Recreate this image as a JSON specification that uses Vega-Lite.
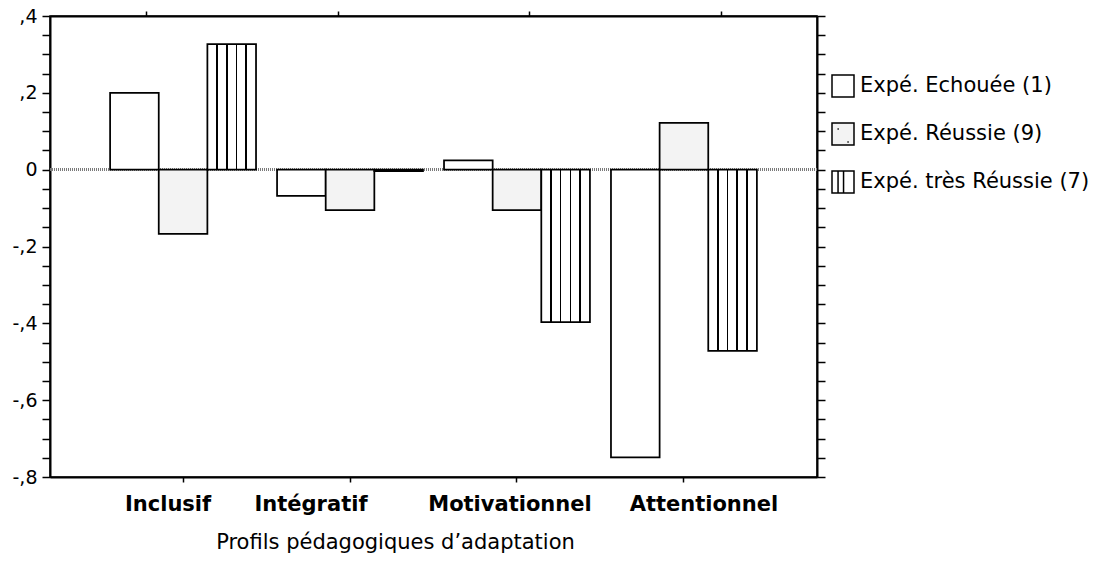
{
  "$schema": "https://vega.github.io/schema/vega-lite/v6.json",
  "width": 767,
  "height": 461,
  "autosize": {"type": "none"},
  "padding": {"left": 50, "top": 16, "right": 280, "bottom": 95},
  "background": "white",
  "config": {
    "font": "DejaVu Sans",
    "view": {"stroke": "black", "strokeWidth": 1.5}
  },
  "data": {
    "values": [
      {"profil": "Inclusif", "groupe": "Expé. Echouée (1)", "valeur": 0.2},
      {"profil": "Inclusif", "groupe": "Expé. Réussie (9)", "valeur": -0.167},
      {"profil": "Inclusif", "groupe": "Expé. très Réussie (7)", "valeur": 0.327},
      {"profil": "Intégratif", "groupe": "Expé. Echouée (1)", "valeur": -0.068},
      {"profil": "Intégratif", "groupe": "Expé. Réussie (9)", "valeur": -0.105},
      {"profil": "Intégratif", "groupe": "Expé. très Réussie (7)", "valeur": -0.004},
      {"profil": "Motivationnel", "groupe": "Expé. Echouée (1)", "valeur": 0.024},
      {"profil": "Motivationnel", "groupe": "Expé. Réussie (9)", "valeur": -0.105},
      {"profil": "Motivationnel", "groupe": "Expé. très Réussie (7)", "valeur": -0.397},
      {"profil": "Attentionnel", "groupe": "Expé. Echouée (1)", "valeur": -0.749},
      {"profil": "Attentionnel", "groupe": "Expé. Réussie (9)", "valeur": 0.122},
      {"profil": "Attentionnel", "groupe": "Expé. très Réussie (7)", "valeur": -0.472}
    ]
  },
  "layer": [
    {
      "mark": {"type": "rule", "color": "#7a7a7a", "strokeWidth": 2.5, "strokeDash": [1, 1]},
      "encoding": {
        "y": {"datum": 0, "type": "quantitative", "scale": {"domain": [-0.8, 0.4], "nice": false}, "axis": null}
      }
    },
    {
      "mark": {"type": "bar", "stroke": "black", "strokeWidth": 1.75},
      "encoding": {
        "x": {
          "field": "profil", "type": "nominal",
          "sort": ["Inclusif", "Intégratif", "Motivationnel", "Attentionnel"],
          "scale": {"paddingInner": 0.126, "paddingOuter": 0.36},
          "axis": {
            "orient": "bottom",
            "title": "Profils pédagogiques d’adaptation",
            "titleFontSize": 21, "titleFontWeight": "normal", "titleColor": "black",
            "titleX": 345, "titleAlign": "center", "titlePadding": 17,
            "labelAngle": 0, "labelFontSize": 21, "labelFontWeight": "bold", "labelColor": "black",
            "labelPadding": 11, "tickSize": 5, "tickWidth": 1.5, "tickColor": "black",
            "domainColor": "black", "domainWidth": 2,
            "labelOffset": {
              "condition": [
                {"test": "datum.value == 'Inclusif'", "value": -15},
                {"test": "datum.value == 'Intégratif'", "value": -39},
                {"test": "datum.value == 'Motivationnel'", "value": -7}
              ],
              "value": 20
            }
          }
        },
        "xOffset": {
          "field": "groupe", "type": "nominal",
          "sort": ["Expé. Echouée (1)", "Expé. Réussie (9)", "Expé. très Réussie (7)"],
          "scale": {"paddingInner": 0, "paddingOuter": 0}
        },
        "y": {
          "field": "valeur", "type": "quantitative",
          "scale": {"domain": [-0.8, 0.4], "nice": false},
          "axis": {
            "orient": "left", "title": null, "grid": false,
            "values": [-0.8, -0.75, -0.7, -0.65, -0.6, -0.55, -0.5, -0.45, -0.4, -0.35, -0.3, -0.25, -0.2, -0.15, -0.1, -0.05, 0, 0.05, 0.1, 0.15, 0.2, 0.25, 0.3, 0.35, 0.4],
            "labelExpr": "abs(datum.value*5 - round(datum.value*5)) < 0.001 ? (abs(datum.value) < 0.001 ? '0' : (datum.value < 0 ? '-,' : ',') + round(abs(datum.value)*10)) : ''",
            "labelFontSize": 19, "labelColor": "black", "labelPadding": 5, "labelOverlap": false,
            "tickSize": 8, "tickWidth": 1.5, "tickColor": "black",
            "domainColor": "black", "domainWidth": 2,
            "encode": {
              "ticks": {"update": {"x2": {"signal": "abs(datum.value*5 - round(datum.value*5)) < 0.001 ? -8 : -5"}}}
            }
          }
        },
        "fill": {
          "field": "groupe", "type": "nominal",
          "scale": {
            "domain": ["Expé. Echouée (1)", "Expé. Réussie (9)", "Expé. très Réussie (7)"],
            "range": ["white", "#f3f3f3", "white"]
          },
          "condition": {
            "test": "datum.groupe === 'Expé. très Réussie (7)'",
            "value": {
              "gradient": "linear", "x1": 0, "y1": 0, "x2": 1, "y2": 0,
              "stops": [
                {"offset": 0, "color": "white"},
                {"offset": 0.18, "color": "white"},
                {"offset": 0.18, "color": "black"},
                {"offset": 0.215, "color": "black"},
                {"offset": 0.215, "color": "white"},
                {"offset": 0.38, "color": "white"},
                {"offset": 0.38, "color": "black"},
                {"offset": 0.415, "color": "black"},
                {"offset": 0.415, "color": "white"},
                {"offset": 0.58, "color": "white"},
                {"offset": 0.58, "color": "black"},
                {"offset": 0.615, "color": "black"},
                {"offset": 0.615, "color": "white"},
                {"offset": 0.78, "color": "white"},
                {"offset": 0.78, "color": "black"},
                {"offset": 0.815, "color": "black"},
                {"offset": 0.815, "color": "white"},
                {"offset": 1, "color": "white"}
              ]
            }
          },
          "legend": {
            "orient": "none", "legendX": 781, "legendY": 58,
            "title": null,
            "symbolSize": 484, "symbolOpacity": 1,
            "symbolStrokeColor": "black", "symbolStrokeWidth": 1.5,
            "labelFontSize": 21, "labelColor": "black", "labelOffset": 5,
            "labelLimit": 400, "rowPadding": 20
          }
        }
      }
    },
    {
      "mark": {"type": "point", "opacity": 0, "color": "black"},
      "encoding": {
        "x": {
          "field": "profil", "type": "nominal",
          "sort": ["Inclusif", "Intégratif", "Motivationnel", "Attentionnel"],
          "scale": {"paddingInner": 0.126, "paddingOuter": 0.36},
          "axis": {
            "orient": "top", "title": null, "labels": false,
            "tickSize": 5, "tickWidth": 1.5, "tickColor": "black",
            "domainColor": "black", "domainWidth": 2
          }
        },
        "y": {
          "field": "valeur", "type": "quantitative",
          "scale": {"domain": [-0.8, 0.4], "nice": false},
          "axis": {
            "orient": "right", "title": null, "labels": false, "grid": false,
            "values": [-0.8, -0.75, -0.7, -0.65, -0.6, -0.55, -0.5, -0.45, -0.4, -0.35, -0.3, -0.25, -0.2, -0.15, -0.1, -0.05, 0, 0.05, 0.1, 0.15, 0.2, 0.25, 0.3, 0.35, 0.4],
            "tickSize": 8, "tickWidth": 1.5, "tickColor": "black",
            "domainColor": "black", "domainWidth": 2,
            "encode": {
              "ticks": {"update": {"x2": {"signal": "abs(datum.value*5 - round(datum.value*5)) < 0.001 ? 8 : 5"}}}
            }
          }
        },
        "shape": {
          "field": "groupe", "type": "nominal",
          "scale": {
            "domain": ["Expé. Echouée (1)", "Expé. Réussie (9)", "Expé. très Réussie (7)"],
            "range": [
              "M-1,-1H1V1H-1Z",
              "M-1,-1H1V1H-1Z M-0.5,-0.45h0.12 M0.4,0.72h0.12",
              "M-1,-1H1V1H-1Z M-0.45,-1V1 M0.05,-1V1"
            ]
          },
          "legend": {
            "orient": "none", "legendX": 781, "legendY": 58,
            "title": null,
            "symbolSize": 484, "symbolOpacity": 1,
            "symbolStrokeColor": "black", "symbolStrokeWidth": 1.5,
            "labelFontSize": 21, "labelColor": "black", "labelOffset": 5,
            "labelLimit": 400, "rowPadding": 20
          }
        }
      }
    }
  ],
  "resolve": {"scale": {"x": "independent", "y": "independent"}}
}
